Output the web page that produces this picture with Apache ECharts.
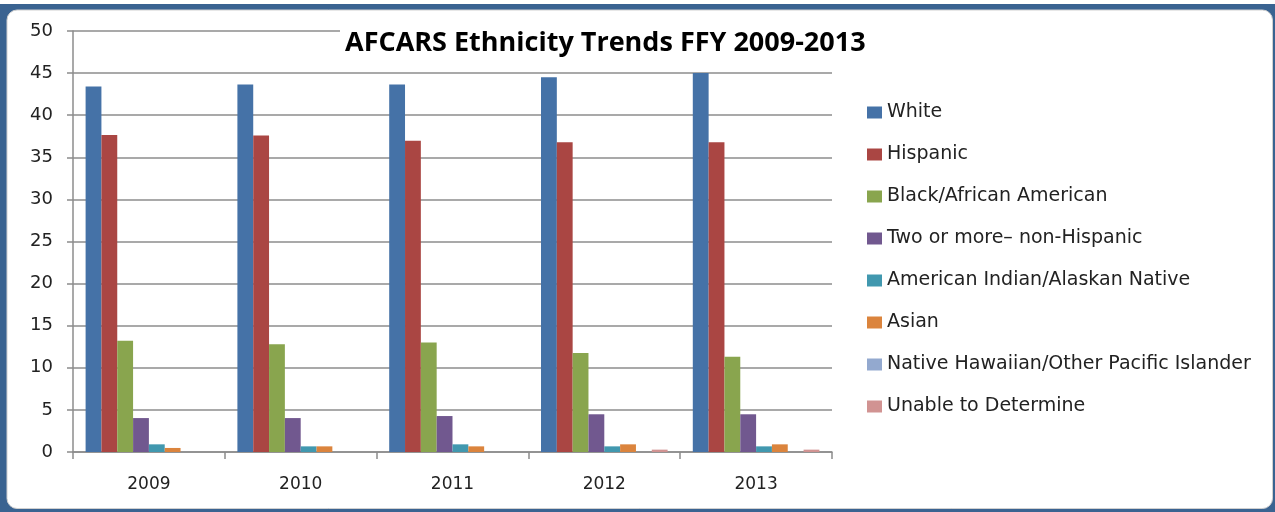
<!DOCTYPE html>
<html>
<head>
<meta charset="utf-8">
<script src="https://cdn.jsdelivr.net/npm/echarts@6/dist/echarts.min.js"></script>
<style>
html,body{margin:0;padding:0;background:#fff;}
#chart{width:1275px;height:512px;}
</style>
</head>
<body>
<div id="chart"></div>
<script>
const categories = ['2009', '2010', '2011', '2012', '2013'];
const seriesNames = ['White', 'Hispanic', 'Black/African American', 'Two or more\u2013 non-Hispanic',
  'American Indian/Alaskan Native', 'Asian', 'Native Hawaiian/Other Pacific Islander', 'Unable to Determine'];
const white = [43.4, 43.65, 43.65, 44.5, 45.0];
const hispanic = [37.65, 37.6, 36.97, 36.8, 36.8];
const black = [13.2, 12.8, 13.0, 11.76, 11.3];
const twoOrMore = [4.03, 4.03, 4.27, 4.48, 4.48];
const amIndian = [0.91, 0.67, 0.91, 0.67, 0.67];
const asian = [0.48, 0.67, 0.67, 0.91, 0.91];
const hawaiian = [0, 0, 0, 0, 0];
const unable = [0, 0, 0, 0.28, 0.28];
const yTicks = [0, 5, 10, 15, 20, 25, 30, 35, 40, 45, 50];

const seriesData = [white, hispanic, black, twoOrMore, amIndian, asian, hawaiian, unable];
const colors = ['#4572A7', '#AA4643', '#89A54E', '#71588F', '#4198AF', '#DB843D', '#93A9CF', '#D19392'];
const font = 'DejaVu Sans';

const chart = echarts.init(document.getElementById('chart'));
chart.setOption({
  animation: false,
  color: colors,
  graphic: {
    elements: [
      { type: 'rect', z: -20, shape: { x: 0, y: 4, width: 1275, height: 508 }, style: { fill: '#3A6391' } },
      { type: 'rect', z: -19, shape: { x: 7, y: 10, width: 1265.5, height: 498.5, r: 10 }, style: { fill: '#ffffff', stroke: '#d0d0d0', lineWidth: 1 } }
    ]
  },
  title: {
    text: 'AFCARS Ethnicity Trends FFY 2009-2013',
    left: 340,
    top: 20,
    padding: [10, 8, 8, 5],
    backgroundColor: '#ffffff',
    z: 10,
    textStyle: { fontFamily: 'Open Sans', fontWeight: 'bold', fontSize: 27, color: '#000' }
  },
  legend: {
    orient: 'vertical',
    left: 862,
    top: 98,
    itemWidth: 15,
    itemHeight: 12,
    itemGap: 23,
    icon: 'rect',
    data: seriesNames,
    textStyle: { fontFamily: font, fontSize: 19, color: '#222' }
  },
  grid: { left: 73, right: 443, top: 31, bottom: 60, containLabel: false },
  xAxis: {
    type: 'category',
    data: categories,
    axisLine: { lineStyle: { color: '#8c8c8c', width: 1.5 } },
    axisTick: { show: true, length: 7, lineStyle: { color: '#8c8c8c', width: 1.5 } },
    axisLabel: { fontFamily: font, fontSize: 17, color: '#222', margin: 24 }
  },
  yAxis: {
    type: 'value',
    min: yTicks[0],
    max: yTicks[yTicks.length - 1],
    interval: 5,
    axisLine: { show: true, lineStyle: { color: '#8c8c8c', width: 1.5 } },
    axisTick: { show: true, length: 6, lineStyle: { color: '#8c8c8c', width: 1.5 } },
    splitLine: { lineStyle: { color: '#8c8c8c', width: 1.5 } },
    axisLabel: { fontFamily: font, fontSize: 18, color: '#222', margin: 20 }
  },
  series: seriesNames.map((name, i) => ({
    name: name,
    type: 'bar',
    data: seriesData[i],
    barGap: '0%',
    barCategoryGap: '16.6%',
    itemStyle: { color: colors[i] }
  }))
});
</script>
</body>
</html>
